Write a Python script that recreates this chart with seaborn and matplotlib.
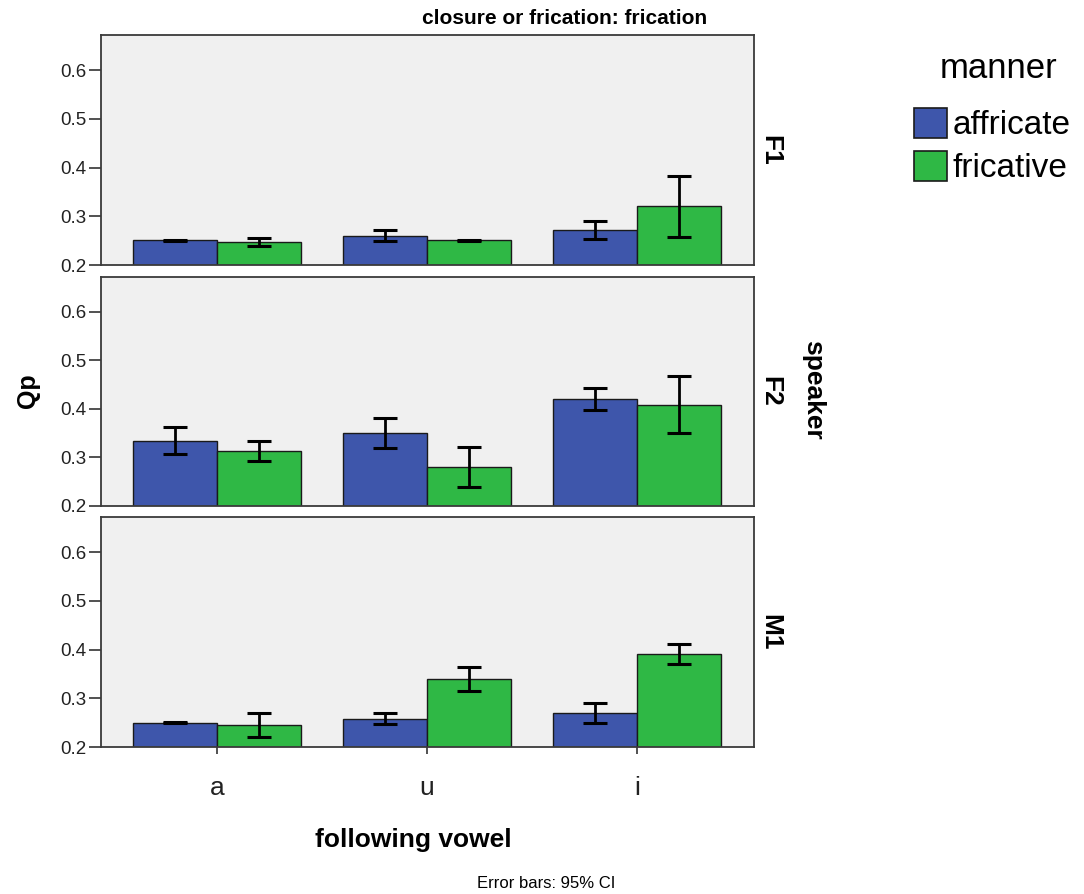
import numpy as np
import pandas as pd
import matplotlib
matplotlib.use("Agg")
import matplotlib.pyplot as plt
import seaborn as sns
from matplotlib.patches import Patch

# ---- data ----
speakers = ["F1", "F2", "M1"]
vowels = ["a", "u", "i"]
manners = ["affricate", "fricative"]

# mean Qp per speaker, [affricate a,u,i], [fricative a,u,i]
f1_affricate = [0.251, 0.259, 0.271]
f1_fricative = [0.247, 0.251, 0.321]
f2_affricate = [0.335, 0.351, 0.421]
f2_fricative = [0.313, 0.281, 0.409]
m1_affricate = [0.250, 0.257, 0.269]
m1_fricative = [0.245, 0.339, 0.391]

# 95% CI lower / upper
f1_aff_lo = [0.249, 0.249, 0.253]
f1_aff_hi = [0.252, 0.272, 0.290]
f1_fri_lo = [0.239, 0.250, 0.257]
f1_fri_hi = [0.255, 0.252, 0.383]
f2_aff_lo = [0.308, 0.320, 0.397]
f2_aff_hi = [0.363, 0.382, 0.443]
f2_fri_lo = [0.292, 0.240, 0.351]
f2_fri_hi = [0.334, 0.322, 0.467]
m1_aff_lo = [0.249, 0.247, 0.250]
m1_aff_hi = [0.251, 0.270, 0.290]
m1_fri_lo = [0.221, 0.314, 0.370]
m1_fri_hi = [0.269, 0.364, 0.411]

y_ticks = [0.2, 0.3, 0.4, 0.5, 0.6]
colors = {"affricate": "#3e56ab", "fricative": "#2fb845"}

means = {"F1": (f1_affricate, f1_fricative),
         "F2": (f2_affricate, f2_fricative),
         "M1": (m1_affricate, m1_fricative)}
lows = {"F1": (f1_aff_lo, f1_fri_lo),
        "F2": (f2_aff_lo, f2_fri_lo),
        "M1": (m1_aff_lo, m1_fri_lo)}
highs = {"F1": (f1_aff_hi, f1_fri_hi),
         "F2": (f2_aff_hi, f2_fri_hi),
         "M1": (m1_aff_hi, m1_fri_hi)}

rows = []
for sp in speakers:
    for mi, m in enumerate(manners):
        for vi, v in enumerate(vowels):
            rows.append(dict(speaker=sp, vowel=v, manner=m,
                             Qp=means[sp][mi][vi],
                             lo=lows[sp][mi][vi], hi=highs[sp][mi][vi]))
df = pd.DataFrame(rows)

sns.set_theme(style="white")
plt.rcParams["font.family"] = ["Liberation Sans", "DejaVu Sans"]
plt.rcParams["text.color"] = "black"
plt.rcParams["xtick.color"] = "black"
plt.rcParams["ytick.color"] = "black"

fig = plt.figure(figsize=(10.84, 8.94), dpi=100)
W, H = 1084, 894
left, right = 101 / W, 754 / W
panels = [(35, 265), (277, 506), (517, 747)]

for k, sp in enumerate(speakers):
    top, bot = panels[k]
    ax = fig.add_axes([left, 1 - bot / H, right - left, (bot - top) / H])
    ax.set_facecolor("#f0f0f0")
    sub = df[df.speaker == sp]
    sns.barplot(data=sub, x="vowel", y="Qp", hue="manner", order=vowels,
                hue_order=manners, palette=colors, errorbar=None,
                width=0.8, edgecolor="#1a1a1a", linewidth=1.0, ax=ax,
                legend=False, saturation=1)
    for mi, m in enumerate(manners):
        cont = ax.containers[mi]
        for vi, v in enumerate(vowels):
            bar = cont[vi]
            xc = bar.get_x() + bar.get_width() / 2
            r = sub[(sub.manner == m) & (sub.vowel == v)].iloc[0]
            ax.errorbar(xc, r.Qp, yerr=[[r.Qp - r.lo], [r.hi - r.Qp]],
                        fmt="none", ecolor="black", elinewidth=2,
                        capsize=8.5, capthick=2.2, zorder=5)
    ax.set_ylim(0.2, 0.672)
    ax.set_xlim(-0.552, 2.557)
    ax.set_yticks(y_ticks)
    ax.set_yticklabels([f"{t:.1f}" for t in y_ticks], fontsize=13.5,
                       color="#222222")
    ax.tick_params(axis="y", length=9, width=1.2, color="#333333", pad=1.5,
                   left=True)
    for s in ax.spines.values():
        s.set_color("#3a3a3a")
        s.set_linewidth(1.3)
    ax.set_ylabel("")
    ax.set_xlabel("")
    ax.text(1.006, 0.5, sp, transform=ax.transAxes, rotation=270,
            ha="left", va="center", fontsize=19, fontweight="bold")
    if k < 2:
        ax.set_xticklabels([])
        ax.tick_params(axis="x", length=0)
    else:
        ax.set_xticklabels(vowels, fontsize=19, color="#222222")
        ax.tick_params(axis="x", length=5, width=1.2, color="#333333",
                       pad=16, bottom=True)

fig.text(565 / W, 1 - 18 / H, "closure or frication: frication",
         ha="center", va="center", fontsize=15, fontweight="bold")
fig.text(28 / W, 1 - 391 / H, "Qp", rotation=90, ha="center",
         va="center", fontsize=18, fontweight="bold")
fig.text(813 / W, 1 - 390 / H, "speaker", rotation=270, ha="center",
         va="center", fontsize=19, fontweight="bold")
fig.text(413 / W, 1 - 840 / H, "following vowel", ha="center",
         va="center", fontsize=19, fontweight="bold")
fig.text(546 / W, 1 - 883 / H, "Error bars: 95% CI", ha="center",
         va="center", fontsize=12)

fig.text(999 / W, 1 - 68 / H, "manner", ha="center", va="center",
         fontsize=25)
handles = [Patch(facecolor=colors[m], edgecolor="#1a1a1a", linewidth=1.2)
           for m in manners]
leg = fig.legend(handles, manners, loc="upper left",
                 bbox_to_anchor=(914 / W, 1 - 108 / H), frameon=False,
                 fontsize=24, handlelength=1.0, borderaxespad=0,
                 handleheight=1.0, handletextpad=0.15, labelspacing=0.28,
                 borderpad=0)

fig.savefig("out.png", dpi=100, facecolor="white")
